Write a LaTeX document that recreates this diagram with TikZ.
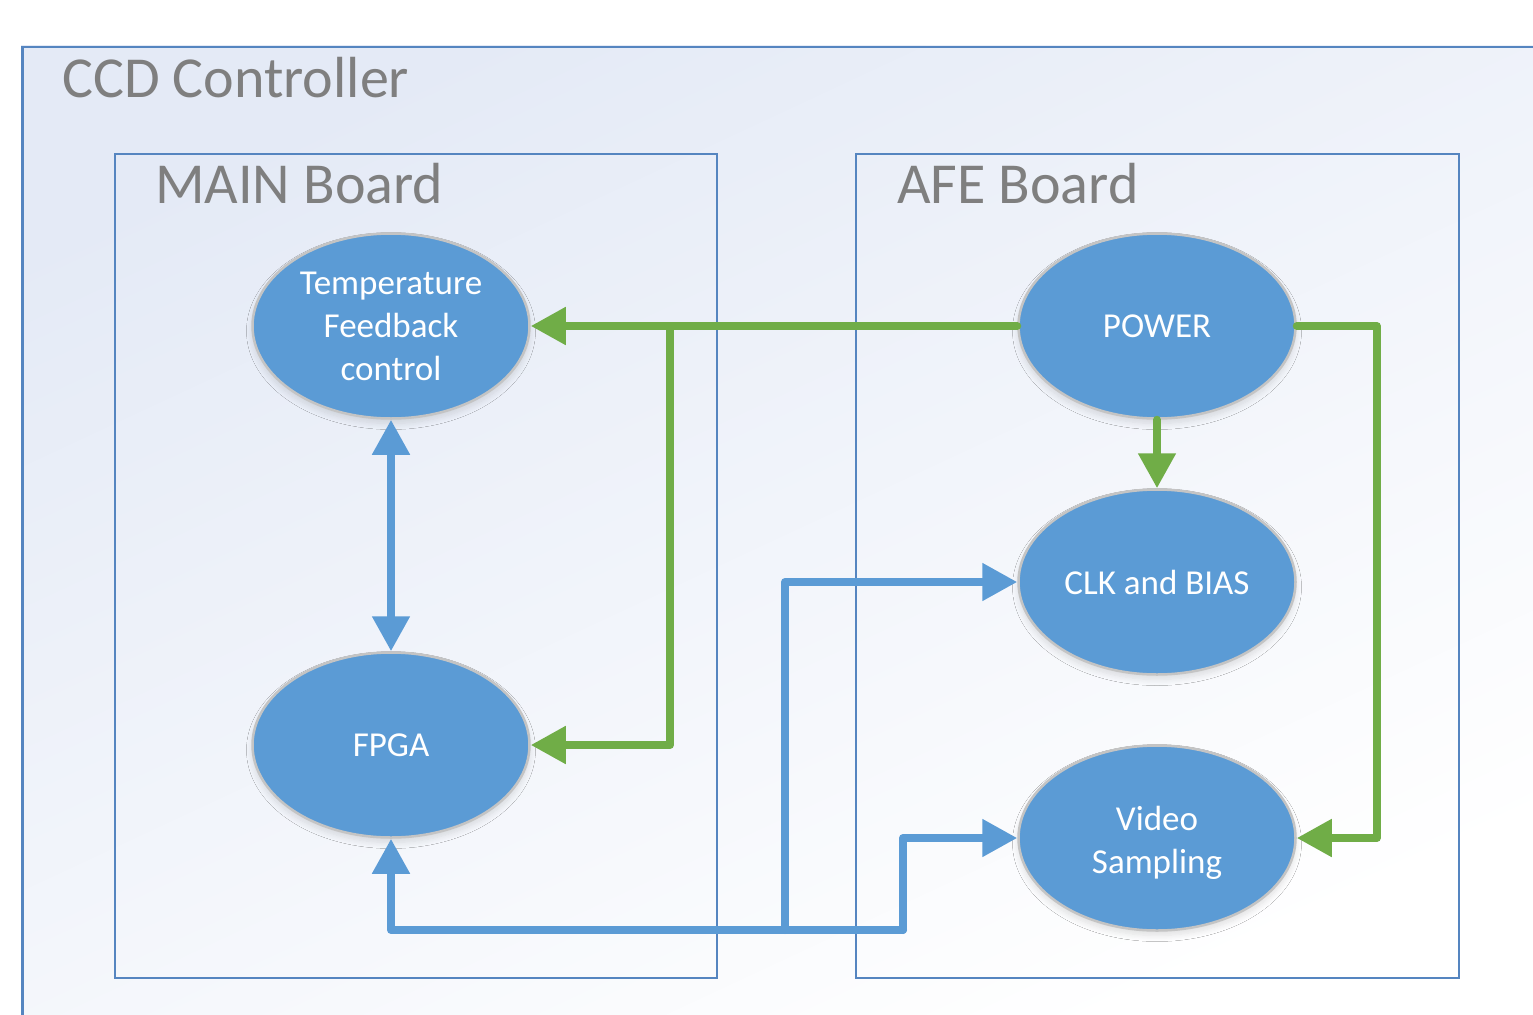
\documentclass[tikz,border=0pt]{standalone}
\usepackage{fontspec}
\setmainfont{Carlito}
\usetikzlibrary{arrows.meta,shapes.geometric,shadows.blur}
\definecolor{nodeblue}{HTML}{5B9BD5}
\definecolor{arrgreen}{HTML}{70AD47}
\definecolor{boxline}{HTML}{5585C0}
\definecolor{titlegray}{HTML}{7F7F7F}
\definecolor{bgblue}{HTML}{E4EAF6}
\definecolor{rimgray}{HTML}{C4C4C4}
\begin{document}
\begin{tikzpicture}[x=1pt,y=-1pt,
  blob/.style={ellipse, fill=nodeblue, draw=rimgray, line width=2.5pt,
    minimum width=277pt, minimum height=185pt, inner sep=0pt, text=white,
    font=\fontsize{35}{43}\selectfont, align=center,
    blur shadow={shadow xshift=0pt, shadow yshift=-5pt, shadow opacity=12,
      shadow blur steps=10, shadow blur radius=6pt}},
  board/.style={draw=boxline, line width=2pt, inner sep=0pt, anchor=north west},
  title/.style={text=titlegray, font=\fontsize{58}{70}\selectfont, inner sep=0pt, anchor=base west},
  garr/.style={draw=arrgreen, line width=8pt, line join=round, line cap=round, -{Triangle[length=35pt, width=36pt]}},
  barr/.style={draw=nodeblue, line width=8pt, line join=round, line cap=round, -{Triangle[length=35pt, width=36pt]}}
]
\useasboundingbox (0,0) rectangle (1533,1014);
\clip (0,0) rectangle (1533,1014);
% outer container
\shade[top color=bgblue, bottom color=white, shading angle=25] (21,46) rectangle (1545,1025);
\node[board, line width=2.5pt, minimum width=1524pt, minimum height=979pt] (outer) at (21,46) {};
\node[title] (ccdt) at (62,98) {CCD Controller};
% boards
\node[board, minimum width=602pt, minimum height=824pt] (main) at (114,153) {};
\node[board, minimum width=603pt, minimum height=824pt] (afe) at (855,153) {};
\node[title] (maint) at (155,203) {MAIN Board};
\node[title] (afet) at (897,203) {AFE Board};
% blobs
\node[blob] (temp) at (391,326) {Temperature\\Feedback\\control};
\node[blob] (fpga) at (391,745) {FPGA};
\node[blob] (power) at (1157,326) {POWER};
\node[blob] (clk) at (1157,582) {CLK and BIAS};
\node[blob] (video) at (1157,838) {\rule{0pt}{33pt}Video\\Sampling};
% green power lines
\coordinate (gj) at (670,326);
\draw[garr] (power.west) -- (temp.east);
\draw[garr] (gj) -- (gj |- fpga.east) -- (fpga.east);
\draw[garr] (power.south) -- (clk.north);
\draw[garr] (power.east) -- ++(80,0) |- (video.east);
% blue signal lines
\draw[barr, {Triangle[length=35pt, width=36pt]}-{Triangle[length=35pt, width=36pt]}] (temp.south) -- (fpga.north);
\coordinate (bl) at (391,930);
\coordinate (bm) at (785,930);
\coordinate (br) at (903,930);
\draw[barr] (br) -- (bl) -- (fpga.south);
\draw[barr] (bm) |- (clk.west);
\draw[barr] (br) |- (video.west);
\end{tikzpicture}
\end{document}
